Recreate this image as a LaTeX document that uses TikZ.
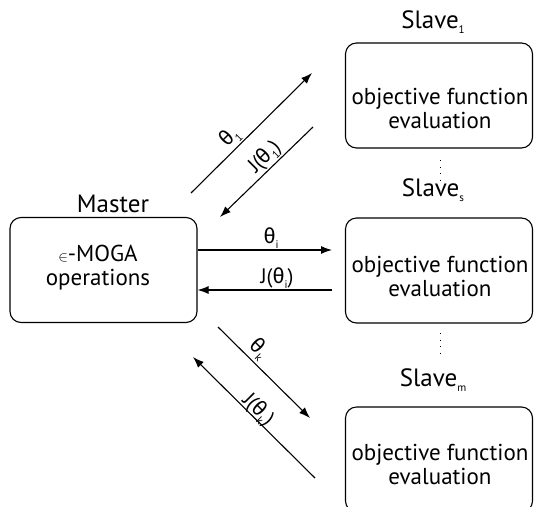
\documentclass[tikz,border=0pt]{standalone}
\usepackage{fontspec}
\setmainfont{PT Sans}
\newfontfamily\grk{Fira Sans}
\usetikzlibrary{arrows.meta}
\tikzset{
  box/.style={draw, line width=1.1pt, rounded corners=11pt, minimum width=187pt, minimum height=105pt, inner sep=0pt},
  boxtxt/.style={align=center, font=\fontsize{23}{24}\selectfont},
  ttl/.style={font=\fontsize{25}{27}\selectfont},
  conn/.style={line width=1.1pt, -{Latex[length=11pt,width=8pt]}},
  lbl/.style={font=\fontsize{21}{23}\selectfont, inner sep=0pt},
  dots/.style={line width=1pt, dash pattern=on 1pt off 5.5pt}
}
\newcommand{\thet}{{\grk θ}}
\newcommand{\lsub}[1]{\raisebox{-0.45ex}{\fontsize{11}{11}\selectfont #1}}
\newcommand{\tsub}[1]{\raisebox{-0.35ex}{\fontsize{11}{11}\selectfont #1}}
\begin{document}
\begin{tikzpicture}[x=1pt,y=-1pt]
\clip (0,0) rectangle (534,506);
% master
\node[box] (master) at (103.5,270) {};
\node[ttl] (mlab) at (113,204) {Master};
\node[boxtxt] (mtxt) at (98,268) {{\fontsize{15}{15}\selectfont$\in$}{-}MOGA\\operations};
% slaves
\node[box] (s1) at (439,95.5) {};
\node[ttl] (s1lab) at (433,22) {Slave\tsub{1}};
\node[boxtxt] (s1txt) at (440,108) {objective function\\evaluation};
\node[box] (ss) at (439,270.5) {};
\node[ttl] (sslab) at (433,190) {Slave\tsub{s}};
\node[boxtxt] (sstxt) at (440,276) {objective function\\evaluation};
\node[box] (sm) at (439,459.5) {};
\node[ttl] (smlab) at (433,380) {Slave\tsub{m}};
\node[boxtxt] (smtxt) at (440,464) {objective function\\evaluation};
% dots
\coordinate (d1a) at (440,160); \coordinate (d1b) at (440,180);
\coordinate (d2a) at (440,333); \coordinate (d2b) at (440,354);
\draw[dots] (d1a) -- (d1b);
\draw[dots] (d2a) -- (d2b);
% arrows
\coordinate (a1s) at (191,193); \coordinate (a1e) at (312,73);
\coordinate (b1s) at (313,127); \coordinate (b1e) at (220,217);
\coordinate (a2s) at (master.east |- 0,250); \coordinate (a2e) at (332,250);
\coordinate (b2s) at (332,290); \coordinate (b2e) at (master.east |- 0,290);
\coordinate (a3s) at (218,327); \coordinate (a3e) at (310,418);
\coordinate (b3s) at (315,478); \coordinate (b3e) at (193,357);
\draw[conn] (a1s) -- (a1e);
\draw[conn] (b1s) -- (b1e);
\draw[conn] (a2s) -- (a2e);
\draw[conn] (b2s) -- (b2e);
\draw[conn] (a3s) -- (a3e);
\draw[conn] (b3s) -- (b3e);
% labels
\node[lbl, rotate=45] (l1) at (230,137) {\thet\lsub{1}};
\node[lbl, rotate=45] (l2) at (265,157) {J(\thet\lsub{1})};
\node[lbl] (l3) at (271,238) {\thet\lsub{i}};
\node[lbl] (l4) at (277,278) {J(\thet\lsub{i})};
\node[lbl, rotate=-45] (l5) at (259,349) {\thet\lsub{k}};
\node[lbl, rotate=-45] (l6) at (258,410) {J(\thet\lsub{k})};
\end{tikzpicture}
\end{document}
